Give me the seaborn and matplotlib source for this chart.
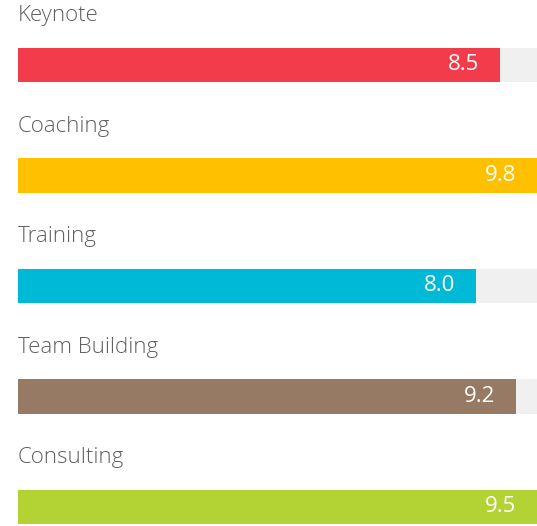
import matplotlib.pyplot as plt
import pandas as pd
import seaborn as sns

categories = ["Keynote", "Coaching", "Training", "Team Building", "Consulting"]
scores = [8.5, 9.8, 8.0, 9.2, 9.5]
fill_pct = [92.9, 100, 88.2, 96.0, 100]
colors = ["#F33C4B", "#FFC000", "#00B9D6", "#967A63", "#B3D335"]

sns.set_theme(style="white")
plt.rcParams["font.family"] = ["Open Sans", "DejaVu Sans"]

df = pd.DataFrame({"category": categories, "score": scores, "fill": fill_pct,
                   "track": [100] * len(categories)})

fig = plt.figure(figsize=(5.37, 5.26), dpi=100)
ax = fig.add_axes([18 / 537, 0, 1 - 18 / 537, 1])

sns.barplot(data=df, x="track", y="category", orient="h", color="#F0F0F0",
            width=0.31, ax=ax, saturation=1, linewidth=0)
sns.barplot(data=df, x="fill", y="category", hue="category", orient="h",
            palette=colors, width=0.31, ax=ax, saturation=1, legend=False,
            linewidth=0)

for i, row in df.iterrows():
    ax.text(0, i - 0.445, row["category"], ha="left", va="center",
            fontsize=16, color="#606060", fontweight="light")
    ax.annotate(f"{row['score']:.1f}", xy=(row["fill"], i), xytext=(-15, 0),
                textcoords="offset points", ha="right", va="center",
                fontsize=16, color="white")

ax.set_xlim(0, 100)
ax.set_ylim(4.172, -0.588)
ax.set_axis_off()

fig.savefig("out.png", dpi=100)
plt.close()
